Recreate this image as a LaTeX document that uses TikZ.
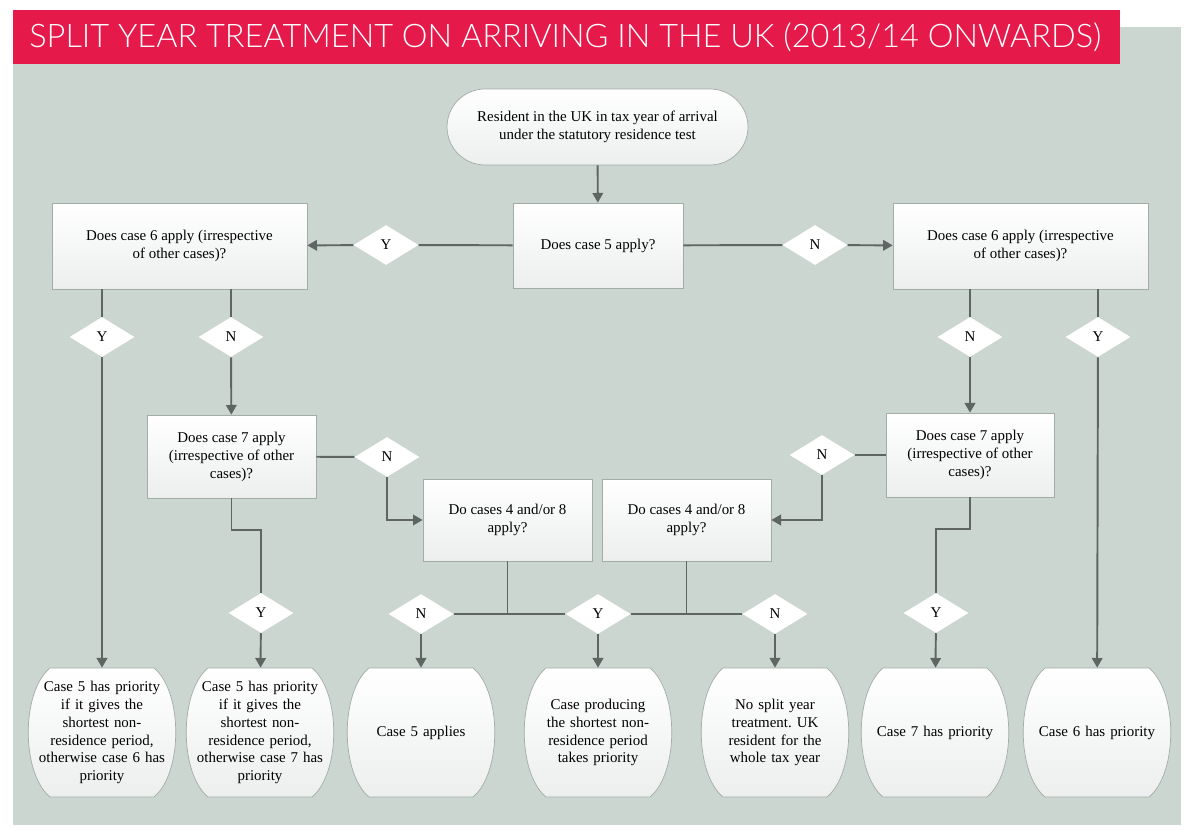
\documentclass[tikz,border=0pt]{standalone}
\usepackage{fontspec}
\setmainfont{Liberation Serif}
\newfontfamily\titlefont{Lato Light}
\usepackage{tikz}
\usetikzlibrary{arrows.meta, shapes.geometric}

\definecolor{titlered}{HTML}{E6194B}
\definecolor{panelgrey}{HTML}{CBD6D1}
\definecolor{linegrey}{HTML}{5E6563}
\definecolor{boxedge}{HTML}{A4ACA9}
\definecolor{boxlow}{HTML}{ECEFEE}

\tikzset{
    box/.style={rectangle, draw=boxedge, line width=0.4pt, top color=white, bottom color=boxlow,
        align=center, inner sep=2pt, font=\fontsize{8.5}{10.2}\selectfont},
    barrel/.style={draw=boxedge, line width=0.4pt, top color=white, bottom color=boxlow},
    endbox/.style={rectangle, minimum width=2.94cm, minimum height=2.58cm,
        text width=2.7cm, align=center, inner sep=0pt, font=\fontsize{8.5}{10.2}\selectfont},
    choice/.style={diamond, fill=white, minimum width=1.3cm, minimum height=0.8cm, inner sep=0pt,
        font=\fontsize{8.5}{10}\selectfont},
    link/.style={draw=linegrey, line width=1.1pt},
    arr/.style={link, -{Triangle[length=5.5pt,width=6pt]}}
}

\begin{document}
\frenchspacing
\begin{tikzpicture}[x=0.02cm, y=-0.02cm]
    \useasboundingbox[fill=white] (0,0) rectangle (1200,837);
    % background panel and title bar
    \fill[panelgrey] (13,27) rectangle (1181,825);
    \fill[titlered] (13,10) rectangle (1120,64);
    \node[anchor=west, text=white, inner sep=0pt, font=\titlefont\fontsize{18.5}{20}\selectfont] (title) at (29,37)
        {SPLIT YEAR TREATMENT ON ARRIVING IN THE UK (2013/14 ONWARDS)};

    % start
    \node[box, rounded corners=0.76cm, minimum width=6.02cm, minimum height=1.52cm]
        (start) at (597.5,127) {Resident in the UK in tax year of arrival\\under the statutory residence test};

    % questions
    \node[box, minimum width=3.4cm, minimum height=1.7cm] (q5) at (598,245.5) {Does case 5 apply?};
    \node[box, minimum width=5.1cm, minimum height=1.72cm] (q6L) at (179.5,246)
        {Does case 6 apply (irrespective\\of other cases)?};
    \node[box, minimum width=5.1cm, minimum height=1.72cm] (q6R) at (1020.5,246)
        {Does case 6 apply (irrespective\\of other cases)?};
    \node[box, minimum width=3.38cm, minimum height=1.66cm] (q7L) at (231.5,456.5)
        {Does case 7 apply\\(irrespective of other\\cases)?};
    \node[box, minimum width=3.36cm, minimum height=1.68cm] (q7R) at (970,455)
        {Does case 7 apply\\(irrespective of other\\cases)?};
    \node[box, minimum width=3.38cm, minimum height=1.64cm] (q48A) at (507.5,520)
        {Do cases 4 and/or 8\\apply?};
    \node[box, minimum width=3.38cm, minimum height=1.64cm] (q48B) at (686.5,520)
        {Do cases 4 and/or 8\\apply?};

    % Y / N choices
    \node[choice] (dYtop) at (386,245) {Y};
    \node[choice] (dNtop) at (815,245) {N};
    \node[choice] (dY6L) at (102,337) {Y};
    \node[choice] (dN6L) at (231,337) {N};
    \node[choice] (dN6R) at (970,337) {N};
    \node[choice] (dY6R) at (1098,337) {Y};
    \node[choice] (dN7L) at (387,457) {N};
    \node[choice] (dN7R) at (822,455) {N};
    \node[choice] (dY7L) at (261,613) {Y};
    \node[choice] (dY7R) at (936,613) {Y};
    \node[choice] (dN1) at (421,614) {N};
    \node[choice] (dY2) at (598,614) {Y};
    \node[choice] (dN3) at (775,614) {N};

    % outcomes: barrel outlines, then the texts
    \foreach \cx in {102,260,421,598,775,935,1097}
        \draw[barrel] (\cx-52,668) -- (\cx+52,668)
            .. controls (\cx+81,692) and (\cx+81,773) .. (\cx+52,797) -- (\cx-52,797)
            .. controls (\cx-81,773) and (\cx-81,692) .. (\cx-52,668) -- cycle;
    \node[endbox] (b1) at (102,732.5) {Case 5 has priority\\if it gives the\\shortest non-\\residence period,\\otherwise case 6 has\\priority};
    \node[endbox] (b2) at (260,732.5) {Case 5 has priority\\if it gives the\\shortest non-\\residence period,\\otherwise case 7 has\\priority};
    \node[endbox] (b3) at (421,732.5) {Case 5 applies};
    \node[endbox] (b4) at (598,732.5) {Case producing\\the shortest non-\\residence period\\takes priority};
    \node[endbox] (b5) at (775,732.5) {No split year\\treatment. UK\\resident for the\\whole tax year};
    \node[endbox] (b6) at (935,732.5) {Case 7 has priority};
    \node[endbox] (b7) at (1097,732.5) {Case 6 has priority};

    % connectors
    \draw[arr] (start) -- (q5);
    \draw[link] (q5) -- (dYtop);
    \draw[arr] (dYtop) -- (q6L);
    \draw[link] (q5) -- (dNtop);
    \draw[arr] (dNtop) -- (q6R);

    \draw[link] (dY6L |- q6L.south) -- (dY6L);
    \draw[arr] (dY6L) -- (b1);
    \draw[link] (dN6L |- q6L.south) -- (dN6L);
    \draw[arr] (dN6L) -- (q7L);
    \draw[link] (q7L) -- (dN7L);
    \draw[arr] (dN7L.south) |- (q48A.west);
    \draw[link] (q7L.south) -- ++(0,32) -| (dY7L.north);
    \draw[arr] (dY7L) -- (b2);

    \draw[link] (dN6R |- q6R.south) -- (dN6R);
    \draw[arr] (dN6R) -- (q7R);
    \draw[link] (dY6R |- q6R.south) -- (dY6R);
    \draw[arr] (dY6R) -- (b7);
    \draw[link] (q7R) -- (dN7R);
    \draw[arr] (dN7R.south) |- (q48B.east);
    \draw[link] (q7R.south) -- ++(0,32) -| (dY7R.north);
    \draw[arr] (dY7R) -- (b6);

    \draw[link] (q48A) -- (q48A |- dY2);
    \draw[link] (q48B) -- (q48B |- dY2);
    \draw[link] (dN1) -- (dY2) -- (dN3);
    \draw[arr] (dN1) -- (b3);
    \draw[arr] (dY2) -- (b4);
    \draw[arr] (dN3) -- (b5);
\end{tikzpicture}
\end{document}
